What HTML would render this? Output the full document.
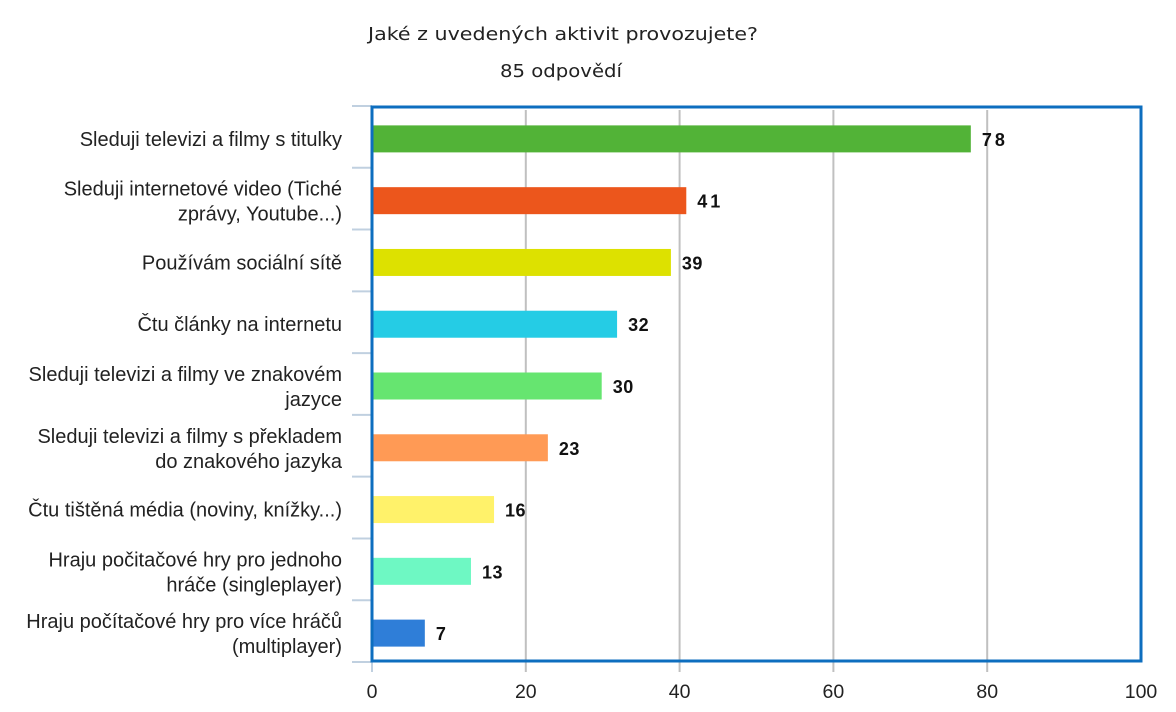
<!DOCTYPE html>
<html><head><meta charset="utf-8"><style>
body{margin:0;background:#fff;font-family:"Liberation Sans",Arial,sans-serif}
</style></head><body>
<svg width="1176" height="707" xmlns="http://www.w3.org/2000/svg" font-family="Liberation Sans, Arial, sans-serif">
<text x="563" y="40" font-size="18" text-anchor="middle" fill="#222" font-family="DejaVu Sans, sans-serif" textLength="390" lengthAdjust="spacingAndGlyphs">Jaké z uvedených aktivit provozujete?</text>
<text x="561" y="77" font-size="18" text-anchor="middle" fill="#222" font-family="DejaVu Sans, sans-serif" textLength="122" lengthAdjust="spacingAndGlyphs">85 odpovědí</text>
<g id="grid"></g><g id="bars"></g><g id="labels"></g>
<rect x="372" y="107" width="769" height="554" fill="none" stroke="#0d6ebf" stroke-width="3"/>
</svg>
<script>
const categories=[["Sleduji televizi a filmy s titulky"],["Sleduji internetové video (Tiché","zprávy, Youtube...)"],["Používám sociální sítě"],["Čtu články na internetu"],["Sleduji televizi a filmy ve znakovém","jazyce"],["Sleduji televizi a filmy s překladem","do znakového jazyka"],["Čtu tištěná média (noviny, knížky...)"],["Hraju počitačové hry pro jednoho","hráče (singleplayer)"],["Hraju počítačové hry pro více hráčů","(multiplayer)"]];
const values=[78,41,39,32,30,23,16,13,7];
const colors=["#52b337","#ec561c","#dde100","#25cce5","#66e570","#ff9a55","#fff26a","#6ef8c3","#2f7ed8"];
const ticks=[0,20,40,60,80,100];
const NS="http://www.w3.org/2000/svg";
const x0=372,x1=1141,y0=106,y1=662;
const xs=v=>x0+(v-0)/(100)*(x1-x0);
const band=(y1-y0)/categories.length;
const g=document.getElementById('grid'),b=document.getElementById('bars'),l=document.getElementById('labels');
function mk(tag,at,parent){const e=document.createElementNS(NS,tag);for(const k in at)e.setAttribute(k,at[k]);parent.appendChild(e);return e;}
ticks.forEach(t=>{
  const X=xs(t);
  if(t>0&&t<100){const ln=mk('line',{x1:X,x2:X,y1:y0+4,y2:y1+10,stroke:'#c0c0c0','stroke-width':2},g);
  
  }
  const tx=mk('text',{x:X,y:698,'font-size':19.5,'text-anchor':'middle',fill:'#222'},l);
  tx.textContent=t;
  
  
});
for(let i=0;i<=categories.length;i++){
  const Y=y0+i*band;
  const tk=mk('line',{x1:352,x2:372,y1:Y,y2:Y,stroke:'#c0d0e0','stroke-width':2},g);
  
  
}
mk('line',{x1:372,x2:372,y1:y1,y2:672,stroke:'#c0d0e0','stroke-width':2},g);
categories.forEach((c,i)=>{
  const cy=y0+band*(i+0.5)+2;
  const r=mk('rect',{x:x0+1,y:cy-13.5,width:xs(values[i])-x0-2,height:27,fill:colors[i]},b);
  
  
  const v=mk('text',{x:xs(values[i])+10,y:cy+7,'font-size':18,'font-weight':'bold',fill:'#111','letter-spacing':values[i]>=40?3:0.5},l);
  v.textContent=values[i];
  
  
  const t=mk('text',{x:342,'font-size':20,'text-anchor':'end',fill:'#222'},l);
  
  
  const startY=c.length===1?cy+7:cy-5;
  c.forEach((line,j)=>{const s=mk('tspan',{x:342,y:startY+j*25},t);s.textContent=line;});
});
</script>
</body></html>
